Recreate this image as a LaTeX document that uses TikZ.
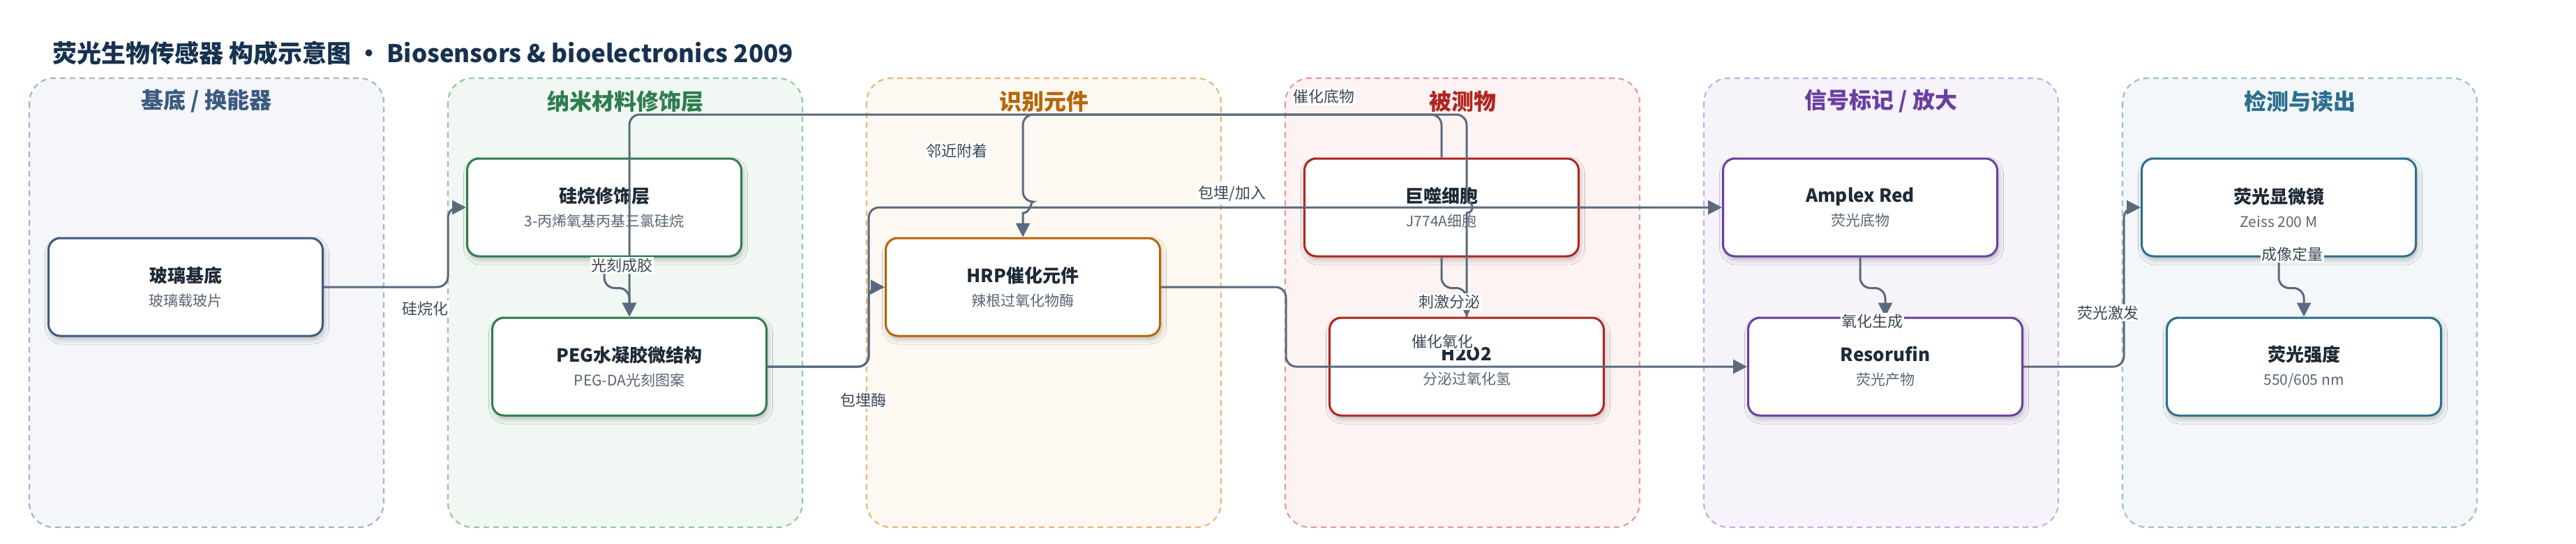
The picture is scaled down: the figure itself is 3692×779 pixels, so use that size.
\documentclass[tikz,border=0pt]{standalone}
\usepackage{fontspec}
\setmainfont{Noto Sans CJK SC}
\usetikzlibrary{arrows.meta,calc,shadows.blur}

% panel colours: background, dashed line, heading / box line
\definecolor{bgA}{HTML}{F4F6FA}\definecolor{lnA}{HTML}{A6B3C6}\definecolor{txA}{HTML}{3D5A80}
\definecolor{bgB}{HTML}{F1F8F3}\definecolor{lnB}{HTML}{97C7A6}\definecolor{txB}{HTML}{2E7D4F}
\definecolor{bgC}{HTML}{FDF8F1}\definecolor{lnC}{HTML}{E5B878}\definecolor{txC}{HTML}{B5650A}
\definecolor{bgD}{HTML}{FDF3F2}\definecolor{lnD}{HTML}{E49A9A}\definecolor{txD}{HTML}{B0261F}
\definecolor{bgE}{HTML}{F6F3FB}\definecolor{lnE}{HTML}{C5AEE2}\definecolor{txE}{HTML}{6A3FA0}
\definecolor{bgF}{HTML}{F3F7F9}\definecolor{lnF}{HTML}{9DBFCF}\definecolor{txF}{HTML}{2C6E8F}
\definecolor{ink}{HTML}{1E2A36}
\definecolor{note}{HTML}{5B6572}
\definecolor{wire}{HTML}{5A6A7E}
\definecolor{lab}{HTML}{3C4754}
\definecolor{headline}{HTML}{17324F}

\newcommand{\boxtitle}[1]{{\bfseries\fontsize{26}{34}\selectfont\color{ink}#1}}
\newcommand{\boxnote}[1]{{\fontsize{21}{34}\selectfont\color{note}#1}}

\tikzset{
  panel/.style={dash pattern=on 8pt off 6pt, line width=2.2pt, rounded corners=35pt},
  head/.style={font=\bfseries\fontsize{32}{38}\selectfont},
  box/.style={rectangle, rounded corners=17pt, line width=3pt, fill=white,
    minimum width=393pt, minimum height=140pt, align=center, inner sep=0pt,
    font=\fontsize{21}{34}\selectfont,
    blur shadow={shadow xshift=2pt, shadow yshift=-5pt, shadow blur radius=7pt, shadow opacity=25}},
  flow/.style={draw=wire, line width=3pt, rounded corners=15pt, -{Triangle[length=20pt,width=20pt]}},
  lbl/.style={fill=white, inner sep=1.5pt, text=lab, font=\fontsize{22}{26}\selectfont}
}

\begin{document}
\begin{tikzpicture}[x=1pt,y=-1pt]
  \fill[white] (0,0) rectangle (3692,779);
  \useasboundingbox (0,0) rectangle (3692,779);

  % Title
  \node[anchor=west, text=headline, font=\bfseries\fontsize{35}{42}\selectfont] (title) at (72,76)
    {荧光生物传感器 构成示意图 • Biosensors \& bioelectronics 2009};

  % Panels with headings
  \foreach \k/\x/\head in {A/42/{基底 / 换能器}, B/642/纳米材料修饰层, C/1242/识别元件,
                           D/1842/被测物, E/2442/{信号标记 / 放大}, F/3042/检测与读出} {
    \draw[panel, fill=bg\k, draw=ln\k] (\x,112) rectangle ++(508,643);
    \node[head, text=tx\k] (h\k) at (\x+254,145) {\head};
  }

  % Boxes
  \node[box, draw=txA] (glass)  at (266,411)  {\boxtitle{玻璃基底}\\\boxnote{玻璃载玻片}};
  \node[box, draw=txB] (silane) at (866,297)  {\boxtitle{硅烷修饰层}\\\boxnote{3-丙烯氧基丙基三氯硅烷}};
  \node[box, draw=txB] (peg)    at (902,525)  {\boxtitle{PEG水凝胶微结构}\\\boxnote{PEG-DA光刻图案}};
  \node[box, draw=txC] (hrp)    at (1466,411) {\boxtitle{HRP催化元件}\\\boxnote{辣根过氧化物酶}};
  \node[box, draw=txD] (macro)  at (2066,297) {\boxtitle{巨噬细胞}\\\boxnote{J774A细胞}};
  \node[box, draw=txD] (hto)    at (2102,525) {\boxtitle{H2O2}\\\boxnote{分泌过氧化氢}};
  \node[box, draw=txE] (amplex) at (2666,297) {\boxtitle{Amplex Red}\\\boxnote{荧光底物}};
  \node[box, draw=txE] (resoru) at (2702,525) {\boxtitle{Resorufin}\\\boxnote{荧光产物}};
  \node[box, draw=txF] (scope)  at (3266,297) {\boxtitle{荧光显微镜}\\\boxnote{Zeiss 200 M}};
  \node[box, draw=txF] (inten)  at (3302,525) {\boxtitle{荧光强度}\\\boxnote{550/605 nm}};

  % Routing helpers
  \coordinate (topline) at (0,164);
  \coordinate (hopA1) at ($(hto.north |- amplex.west)+(0,8)$);
  \coordinate (hopA2) at ($(hto.north |- amplex.west)+(0,-8)$);
  \coordinate (hopB1) at ($(hrp.north |- amplex.west)+(0,-8)$);
  \coordinate (hopB2) at ($(hrp.north |- amplex.west)+(0,8)$);

  % Connectors
  \draw[flow] (glass.east) -- ++(178,0) |- (silane.west);
  \draw[flow] (silane.south) -- ++(0,44) -| (peg.north);
  \draw[flow] (peg.east) -- ++(145,0) |- (hrp.west);
  \draw[flow] (peg.east) -- ++(145,0) |- (amplex.west);
  \draw[flow] (macro.north) -- (macro.north |- topline) -| (peg.north);
  \draw[flow] (hto.north) [sharp corners] -- (hopA1) .. controls +(11,0) and +(11,0) .. (hopA2)
    [rounded corners=15pt] -- (hto.north |- topline) -- (hrp.north |- topline) -- (hopB1)
    [sharp corners] .. controls +(11,0) and +(11,0) .. (hopB2) -- (hrp.north);
  \draw[flow] (macro.south) -- ++(0,44) -| (hto.north);
  \draw[flow] (hrp.east) -- ++(179,0) |- (resoru.west);
  \draw[flow] (amplex.south) -- ++(0,44) -| (resoru.north);
  \draw[flow] (resoru.east) -- ++(144,0) |- (scope.west);
  \draw[flow] (scope.south) -- ++(0,44) -| (inten.north);

  % Connector labels
  \node[lbl] (l1)  at (609,442)  {硅烷化};
  \node[lbl] (l2)  at (891,380)  {光刻成胶};
  \node[lbl] (l3)  at (1237,573) {包埋酶};
  \node[lbl] (l4)  at (1371,216) {邻近附着};
  \node[lbl] (l5)  at (1766,277) {包埋/加入};
  \node[lbl] (l6)  at (1897,138) {催化底物};
  \node[lbl] (l7)  at (2077,432) {刺激分泌};
  \node[lbl] (l8)  at (2067,489) {催化氧化};
  \node[lbl] (l9)  at (2683,460) {氧化生成};
  \node[lbl] (l10) at (3021,448) {荧光激发};
  \node[lbl] (l11) at (3285,364) {成像定量};

\end{tikzpicture}
\end{document}
